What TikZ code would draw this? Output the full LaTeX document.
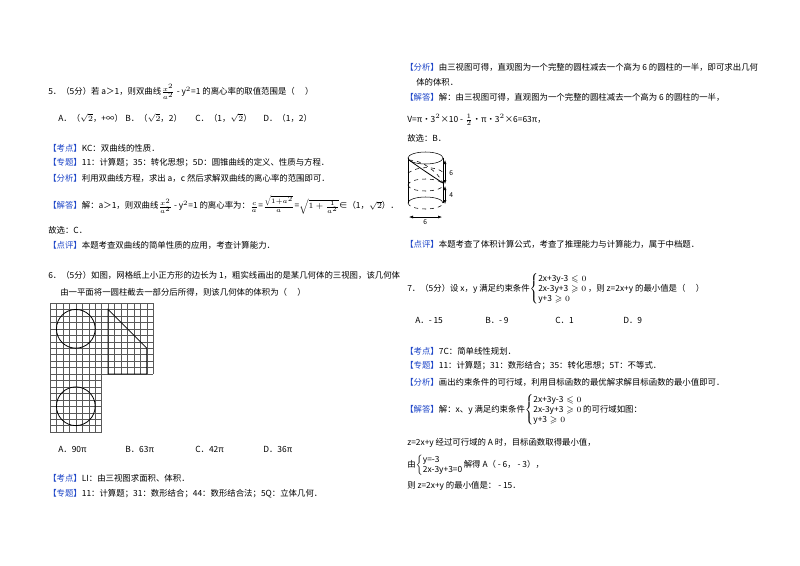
\documentclass[tikz,border=0pt]{standalone}
\usepackage{amsmath,amssymb}
\usepackage{fontspec}
\setmainfont{Noto Sans CJK SC}
\usetikzlibrary{arrows.meta}
\definecolor{lab}{RGB}{30,70,200}
\newcommand{\kb}[1]{\textcolor{lab}{【#1】}}
\begin{document}
\begin{tikzpicture}[x=0.75pt,y=-0.75pt,
  t/.style={anchor=west,inner sep=0pt,font=\fontsize{6.3}{7.5}\selectfont},
  thick2/.style={line width=0.6pt},
  gridl/.style={line width=0.3pt,gray!70!black},
  dim/.style={line width=0.4pt,{Latex[length=3pt]}-{Latex[length=3pt]}}]
\useasboundingbox[fill=white] (0,0) rectangle (800,565);
% Q5
\node[t] (q5) at (48,92) {5．（5分）若 a＞1，则双曲线$\frac{x^2}{a^2}$ - y$^2$=1 的离心率的取值范围是（\quad\ ）};
\node[t] (o5a) at (58,118) {A．（$\sqrt2$，+∞）};
\node[t] (o5b) at (125,118) {B．（$\sqrt2$，2）};
\node[t] (o5c) at (195,118) {C．（1，$\sqrt2$）};
\node[t] (o5d) at (263,118) {D．（1，2）};
\node[t] (k5) at (48,148) {\kb{考点}KC：双曲线的性质．};
\node[t] (z5) at (48,163) {\kb{专题}11：计算题；35：转化思想；5D：圆锥曲线的定义、性质与方程．};
\node[t] (f5) at (48,178) {\kb{分析}利用双曲线方程，求出 a，c 然后求解双曲线的离心率的范围即可．};
\node[t] (j5) at (48,205) {\kb{解答}解：a＞1，则双曲线$\frac{x^2}{a^2}$ - y$^2$=1 的离心率为：$\frac{c}{a}$=$\frac{\sqrt{1+a^2}}{a}$=$\sqrt{1+\frac{1}{a^2}}$∈（1，$\sqrt2$）．};
\node[t] (g5) at (48,230) {故选：C．};
\node[t] (p5) at (48,245) {\kb{点评}本题考查双曲线的简单性质的应用，考查计算能力．};
% Q6
\node[t] (q6) at (48,275) {6．（5分）如图，网格纸上小正方形的边长为 1，粗实线画出的是某几何体的三视图，该几何体};
\node[t] (q6b) at (60,292) {由一平面将一圆柱截去一部分后所得，则该几何体的体积为（\quad\ ）};
\begin{scope}[shift={(50,303)},x=4.84pt,y=-4.84pt]
  \foreach \i in {0,...,16} \draw[gridl] (\i,0) -- (\i,11);
  \foreach \j in {0,...,11} \draw[gridl] (0,\j) -- (16,\j);
  \foreach \i in {0,...,8} \draw[gridl] (\i,11) -- (\i,20);
  \foreach \j in {12,...,20} \draw[gridl] (0,\j) -- (8,\j);
  \draw[thick2] (4,4) circle[radius=14.52pt];
  \draw[thick2] (4,16) circle[radius=14.52pt];
  \draw[thick2] (9,1) -- (15,7) -- (15,11) -- (9,11) -- cycle;
\end{scope}
\node[t] (o6a) at (58,449) {A．90π};
\node[t] (o6b) at (125,449) {B．63π};
\node[t] (o6c) at (195,449) {C．42π};
\node[t] (o6d) at (263,449) {D．36π};
\node[t] (k6) at (48,478) {\kb{考点}LI：由三视图求面积、体积．};
\node[t] (z6) at (48,494) {\kb{专题}11：计算题；31：数形结合；44：数形结合法；5Q：立体几何．};
% right column
\node[t] (f6) at (405,67) {\kb{分析}由三视图可得，直观图为一个完整的圆柱减去一个高为 6 的圆柱的一半，即可求出几何};
\node[t] (f6b) at (416,82) {体的体积．};
\node[t] (j6) at (405,97) {\kb{解答}解：由三视图可得，直观图为一个完整的圆柱减去一个高为 6 的圆柱的一半，};
\node[t] (v6) at (407,120) {V=π•3$^2$×10 - $\frac12$•π•3$^2$×6=63π，};
\node[t] (g6) at (407,138) {故选：B．};
% cylinder
\draw[line width=0.4pt] (425.5,158) ellipse[x radius=17.5,y radius=6];
\draw[line width=0.4pt] (408,158) -- (408,203);
\draw[line width=0.4pt] (443,158) -- (443,203);
\draw[line width=0.4pt] (408,203) arc[start angle=180,end angle=360,x radius=17.5,y radius=6];
\draw[line width=0.4pt,dashed] (408,203) arc[start angle=180,end angle=0,x radius=17.5,y radius=6];
\draw[line width=0.4pt,dashed] (408,185) arc[start angle=180,end angle=0,x radius=17.5,y radius=6];
\draw[line width=0.4pt,dashed] (408,185) arc[start angle=180,end angle=360,x radius=17.5,y radius=6];
\draw[line width=0.6pt] (409,160) .. controls (420,168) and (432,176) .. (443,183);
\draw[line width=0.4pt,dashed] (409,160) .. controls (422,160) and (438,172) .. (443,183);
\draw[line width=0.4pt,dashed] (408,173) .. controls (418,166) and (434,166) .. (443,172);
\draw[dim] (445,160) -- (445,184);
\draw[dim] (445,186) -- (445,204);
\node[t] (d1) at (449,173) {\fontsize{5}{6}\selectfont 6};
\node[t] (d2) at (449,195) {\fontsize{5}{6}\selectfont 4};
\draw[dim] (409,217) -- (442,217);
\node[t] (d3) at (423,222) {\fontsize{5}{6}\selectfont 6};
\node[t] (p6) at (405,244) {\kb{点评}本题考查了体积计算公式，考查了推理能力与计算能力，属于中档题．};
% Q7
\node[t] (q7) at (407,289) {7．（5分）设 x，y 满足约束条件$\left\{\begin{array}{@{}l@{}}\text{2x+3y-3}\leqslant0\\ \text{2x-3y+3}\geqslant0\\ \text{y+3}\geqslant0\end{array}\right.$，则 z=2x+y 的最小值是（\quad\ ）};
\node[t] (o7a) at (415,320) {A．- 15};
\node[t] (o7b) at (485,320) {B．- 9};
\node[t] (o7c) at (555,320) {C．1};
\node[t] (o7d) at (623,320) {D．9};
\node[t] (k7) at (405,351) {\kb{考点}7C：简单线性规划．};
\node[t] (z7) at (405,366) {\kb{专题}11：计算题；31：数形结合；35：转化思想；5T：不等式．};
\node[t] (f7) at (405,382) {\kb{分析}画出约束条件的可行域，利用目标函数的最优解求解目标函数的最小值即可．};
\node[t] (j7) at (405,410) {\kb{解答}解：x、y 满足约束条件$\left\{\begin{array}{@{}l@{}}\text{2x+3y-3}\leqslant0\\ \text{2x-3y+3}\geqslant0\\ \text{y+3}\geqslant0\end{array}\right.$的可行域如图：};
\node[t] (z7b) at (407,443) {z=2x+y 经过可行域的 A 时，目标函数取得最小值，};
\node[t] (y7) at (407,465) {由$\left\{\begin{array}{@{}l@{}}\text{y=-3}\\ \text{2x-3y+3=0}\end{array}\right.$解得 A（ - 6， - 3），};
\node[t] (r7) at (407,486) {则 z=2x+y 的最小值是： - 15．};
\end{tikzpicture}
\end{document}
